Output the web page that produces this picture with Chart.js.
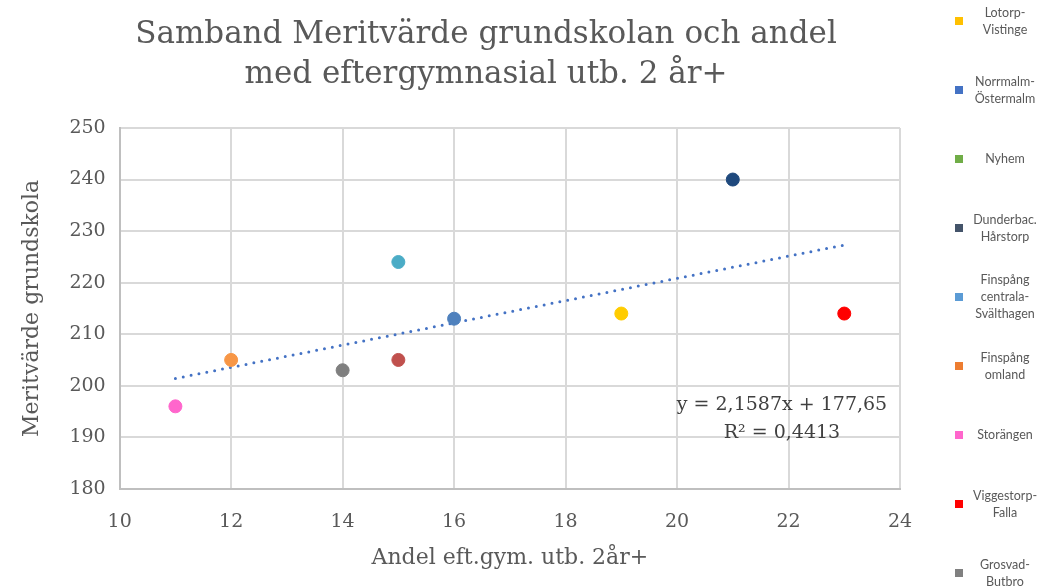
<!DOCTYPE html>
<html>
<head>
<meta charset="utf-8">
<script src="https://cdn.jsdelivr.net/npm/chart.js@4"></script>
<style>
	body { margin: 0; background: #fff; }
	#wrap { position: relative; width: 1054px; height: 587px; overflow: hidden; }
	#myChart { position: absolute; left: 0; top: 0; }
	#legend { position: absolute; left: 950px; top: -14px; width: 104px; }
	.legend-item { height: 69px; display: flex; align-items: center; }
	.legend-box { width: 8px; height: 8px; margin-left: 5px; flex: none; }
	.legend-text {
		width: 84px; text-align: center; white-space: pre-line;
		font-family: Lato, "Open Sans", sans-serif; font-size: 12.5px;
		line-height: 17px; color: #595959;
	}
</style>
</head>
<body>
<div id="wrap">
	<canvas id="myChart" width="972" height="587"></canvas>
	<div id="legend"></div>
</div>
<script>
// LEGEND ENTRIES (AS SHOWN ON THE RIGHT)
const legendNames = [
	"Lotorp-\nVistinge",
	"Norrmalm-\nÖstermalm",
	"Nyhem",
	"Dunderbac.\nHårstorp",
	"Finspång\ncentrala-\nSvälthagen",
	"Finspång\nomland",
	"Storängen",
	"Viggestorp-\nFalla",
	"Grosvad-\nButbro",
];
const legendColors = ["#FFC000", "#4472C4", "#70AD47", "#44546A", "#5B9BD5", "#ED7D31", "#FF66CC", "#FF0000", "#808080"];

// POINTS: ANDEL EFT.GYM. (X) AND MERITVÄRDE (Y)
const andel = [11, 12, 14, 15, 15, 16, 19, 21, 23];
const meritvarde = [196, 205, 203, 205, 224, 213, 214, 240, 214];
const pointColors = ["#FF66CC", "#F79646", "#7F7F7F", "#C0504D", "#4BACC6", "#4F81BD", "#FFCC00", "#1F497D", "#FF0000"];

// LINEAR TREND LINE ENDPOINTS (y = 2,1587x + 177,65)
const trendX = [11, 23];
const trendY = [201.4, 227.3];
const trendText = ["y = 2,1587x + 177,65", "R² = 0,4413"];

// TITLE LINES
const titleLines = ["Samband Meritvärde grundskolan och andel", "med eftergymnasial utb. 2 år+"];

// AXIS TICKS
const xTicks = { min: 10, max: 24, step: 2 };
const yTicks = { min: 180, max: 250, step: 10 };

const serif = "'DejaVu Serif', serif";
const textColor = "#595959";

// BUILD THE HTML LEGEND
let legendHtml = "";
for (let i = 0; i < legendNames.length; i++) {
	legendHtml += '<div class="legend-item"><div class="legend-box" style="background:' + legendColors[i] + '"></div>' +
		'<div class="legend-text">' + legendNames[i] + "</div></div>";
}
document.getElementById("legend").innerHTML = legendHtml;

// TITLE (DRAWN BY HAND SO IT CAN SIT OFF-CENTRE LIKE THE ORIGINAL)
const titlePlugin = {
	id: "bigTitle",
	afterDraw(chart) {
		const c = chart.ctx;
		c.save();
		c.font = "31px " + serif;
		c.fillStyle = textColor;
		c.textAlign = "center";
		c.textBaseline = "middle";
		c.fillText(titleLines[0], 486, 35);
		c.fillText(titleLines[1], 486, 75);
		c.restore();
	},
};

// EQUATION LABEL NEXT TO THE TREND LINE
const equationPlugin = {
	id: "equation",
	afterDatasetsDraw(chart) {
		const c = chart.ctx;
		const area = chart.chartArea;
		c.save();
		c.font = "19px " + serif;
		c.fillStyle = "#404040";
		c.textAlign = "center";
		c.textBaseline = "middle";
		c.fillText(trendText[0], area.right - 118, area.bottom - 84);
		c.fillText(trendText[1], area.right - 118, area.bottom - 56);
		c.restore();
	},
};

const ctx = document.getElementById("myChart").getContext("2d");
const myChart = new Chart(ctx, {
	type: "scatter",
	data: {
		datasets: [
			{
				label: "Punkter",
				data: andel.map((x, i) => ({ x: x, y: meritvarde[i] })),
				backgroundColor: pointColors,
				borderColor: pointColors,
				pointRadius: 6.5,
				pointHoverRadius: 6.5,
			},
			{
				label: "Linjär",
				type: "line",
				data: trendX.map((x, i) => ({ x: x, y: trendY[i] })),
				borderColor: "#4472C4",
				borderWidth: 3,
				borderDash: [0, 8],
				borderCapStyle: "round",
				pointRadius: 0,
				fill: false,
			},
		],
	},
	options: {
		responsive: false,
		animation: false,
		layout: { padding: { left: 15, right: 72, top: 128, bottom: 16 } },
		plugins: {
			legend: { display: false },
			tooltip: { enabled: false },
			title: { display: false },
		},
		scales: {
			x: {
				type: "linear",
				min: xTicks.min,
				max: xTicks.max,
				ticks: { stepSize: xTicks.step, color: textColor, font: { family: serif, size: 19 }, padding: 22 },
				grid: { color: "#d9d9d9", lineWidth: 2, drawTicks: false },
				border: { color: "#bfbfbf", width: 2 },
				title: { display: true, text: "Andel eft.gym. utb. 2år+", color: textColor, font: { family: serif, size: 22 }, padding: { top: -11, bottom: 0 } },
			},
			y: {
				min: yTicks.min,
				max: yTicks.max,
				ticks: { stepSize: yTicks.step, color: textColor, font: { family: serif, size: 19 }, padding: 14 },
				grid: { color: "#d9d9d9", lineWidth: 2, drawTicks: false },
				border: { color: "#bfbfbf", width: 2 },
				title: { display: true, text: "Meritvärde grundskola", color: textColor, font: { family: serif, size: 22 }, padding: { bottom: 10 } },
			},
		},
	},
	plugins: [titlePlugin, equationPlugin],
});
</script>
</body>
</html>
